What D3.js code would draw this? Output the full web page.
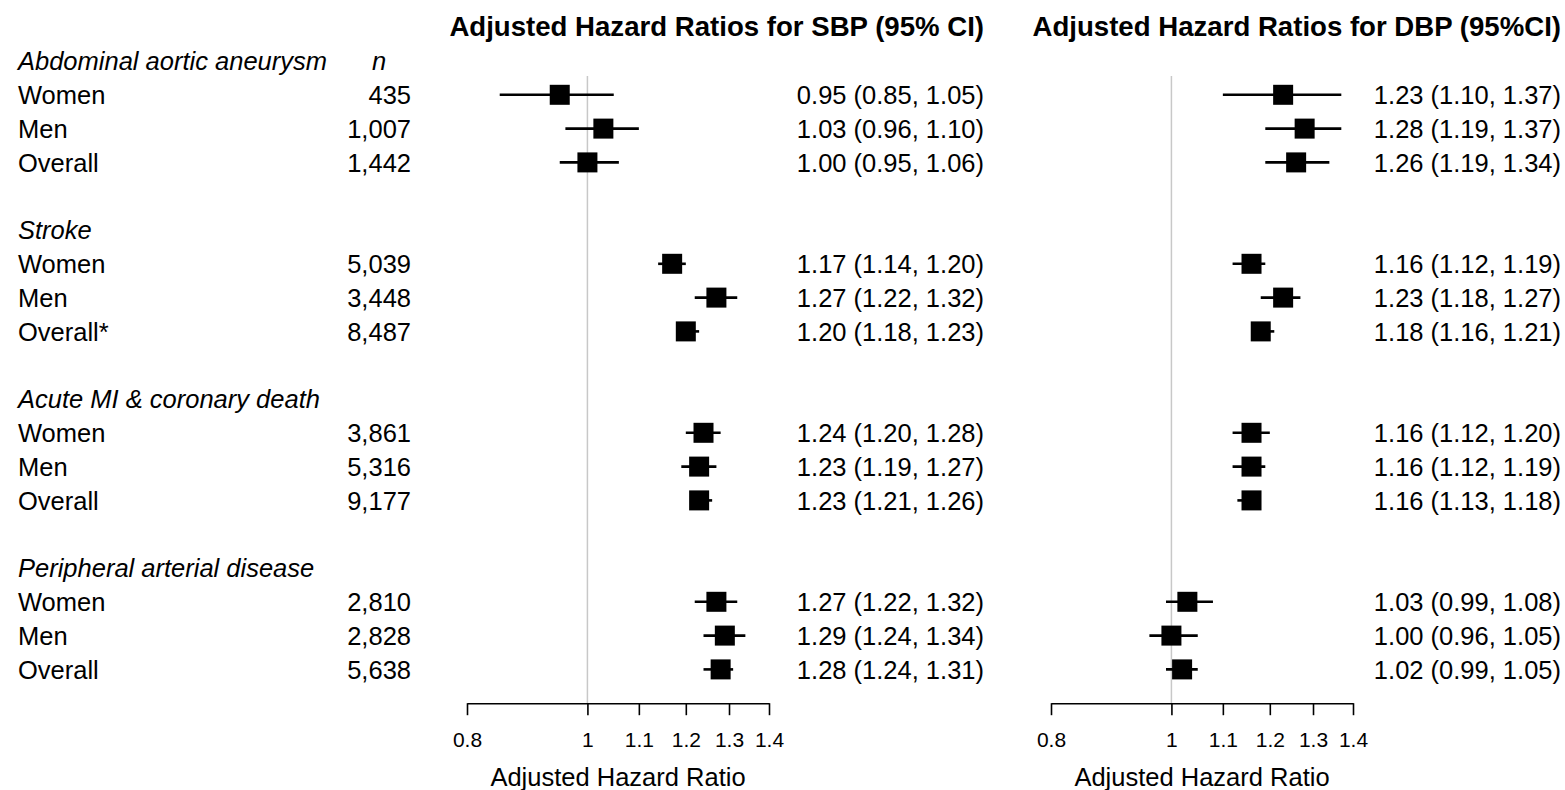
<!DOCTYPE html>
<html>
<head>
<meta charset="utf-8">
<script src="https://cdn.jsdelivr.net/npm/d3@7"></script>
<style>
  html, body { margin: 0; padding: 0; background: #fff; }
  svg { display: block; }
  text { font-family: "Liberation Sans", Arial, sans-serif; fill: #000; }
</style>
</head>
<body>
<svg id="chart" width="1565" height="790"></svg>
<script>
// Outcome groups and subgroup rows
const groups = ["Abdominal aortic aneurysm", "Stroke", "Acute MI & coronary death", "Peripheral arterial disease"];
const subgroups = [
  ["Women", "Men", "Overall"],
  ["Women", "Men", "Overall*"],
  ["Women", "Men", "Overall"],
  ["Women", "Men", "Overall"]
];
const nCases = [
  ["435", "1,007", "1,442"],
  ["5,039", "3,448", "8,487"],
  ["3,861", "5,316", "9,177"],
  ["2,810", "2,828", "5,638"]
];

// Systolic BP: hazard ratio, lower and upper 95% CI
const sbpHR    = [[0.95, 1.03, 1.00], [1.17, 1.27, 1.20], [1.24, 1.23, 1.23], [1.27, 1.29, 1.28]];
const sbpLower = [[0.85, 0.96, 0.95], [1.14, 1.22, 1.18], [1.20, 1.19, 1.21], [1.22, 1.24, 1.24]];
const sbpUpper = [[1.05, 1.10, 1.06], [1.20, 1.32, 1.23], [1.28, 1.27, 1.26], [1.32, 1.34, 1.31]];

// Diastolic BP: hazard ratio, lower and upper 95% CI
const dbpHR    = [[1.23, 1.28, 1.26], [1.16, 1.23, 1.18], [1.16, 1.16, 1.16], [1.03, 1.00, 1.02]];
const dbpLower = [[1.10, 1.19, 1.19], [1.12, 1.18, 1.16], [1.12, 1.12, 1.13], [0.99, 0.96, 0.99]];
const dbpUpper = [[1.37, 1.37, 1.34], [1.19, 1.27, 1.21], [1.20, 1.19, 1.18], [1.08, 1.05, 1.05]];

const tickValues = [0.8, 1, 1.1, 1.2, 1.3, 1.4];
const panelTitles = ["Adjusted Hazard Ratios for SBP (95% CI)", "Adjusted Hazard Ratios for DBP (95%CI)"];
const axisTitle = "Adjusted Hazard Ratio";

const svg = d3.select("#chart");
const fs = 25.5;

// Row layout: each group has a header line, three subgroup lines and a blank line
const rowY = d3.scaleLinear().domain([0, 15]).range([61, 568]);
const rows = [];
groups.forEach((g, gi) => {
  rows.push({ type: "header", label: g, idx: gi * 5, gi });
  subgroups[gi].forEach((s, si) => {
    rows.push({ type: "row", label: s, idx: gi * 5 + 1 + si, gi, si });
  });
});

// Left label column
const left = svg.append("g");
left.selectAll("text.lab").data(rows).join("text")
  .attr("class", "lab")
  .attr("x", 18)
  .attr("y", d => rowY(d.idx))
  .attr("dy", "0.36em")
  .style("font-size", fs + "px")
  .style("font-style", d => d.type === "header" ? "italic" : "normal")
  .text(d => d.label);

left.append("text")
  .attr("x", 379).attr("y", rowY(0)).attr("dy", "0.36em")
  .attr("text-anchor", "middle")
  .style("font-size", fs + "px").style("font-style", "italic")
  .text("n");

left.selectAll("text.n").data(rows.filter(d => d.type === "row")).join("text")
  .attr("class", "n")
  .attr("x", 411)
  .attr("y", d => rowY(d.idx))
  .attr("dy", "0.36em")
  .attr("text-anchor", "end")
  .style("font-size", fs + "px")
  .text(d => nCases[d.gi][d.si]);

const fmt = d3.format(".2f");

function panel(range, hr, lo, hi, textX, title) {
  const x = d3.scaleLog().domain([0.8, 1.4]).range(range);
  const g = svg.append("g");
  const axisY = rowY(19);

  g.append("text")
    .attr("x", textX).attr("y", 26).attr("dy", "0.36em")
    .attr("text-anchor", "end")
    .style("font-size", "27.6px").style("font-weight", "bold")
    .text(title);

  // reference line at HR = 1
  g.append("line")
    .attr("x1", x(1)).attr("x2", x(1))
    .attr("y1", 76).attr("y2", axisY)
    .attr("stroke", "#c8c8c8").attr("stroke-width", 1.5);

  const data = rows.filter(d => d.type === "row").map(d => ({
    idx: d.idx, hr: hr[d.gi][d.si], lo: lo[d.gi][d.si], hi: hi[d.gi][d.si]
  }));

  g.selectAll("line.ci").data(data).join("line")
    .attr("class", "ci")
    .attr("x1", d => x(d.lo)).attr("x2", d => x(d.hi))
    .attr("y1", d => rowY(d.idx)).attr("y2", d => rowY(d.idx))
    .attr("stroke", "#000").attr("stroke-width", 2.6);

  const bs = 20;
  g.selectAll("rect.pt").data(data).join("rect")
    .attr("class", "pt")
    .attr("x", d => x(d.hr) - bs / 2)
    .attr("y", d => rowY(d.idx) - bs / 2)
    .attr("width", bs).attr("height", bs)
    .attr("fill", "#000");

  g.selectAll("text.val").data(data).join("text")
    .attr("class", "val")
    .attr("x", textX)
    .attr("y", d => rowY(d.idx))
    .attr("dy", "0.36em")
    .attr("text-anchor", "end")
    .style("font-size", fs + "px")
    .text(d => `${fmt(d.hr)} (${fmt(d.lo)}, ${fmt(d.hi)})`);

  const axis = d3.axisBottom(x)
    .tickValues(tickValues)
    .tickFormat(d => String(d))
    .tickSizeInner(12).tickSizeOuter(0).tickPadding(17);
  const ag = g.append("g").attr("transform", `translate(0,${axisY})`).call(axis);
  ag.attr("font-size", null).attr("font-family", null);
  ag.select(".domain").attr("stroke", "#000").attr("stroke-width", 1.6);
  ag.selectAll(".tick line").attr("stroke", "#000").attr("stroke-width", 1.6);
  ag.selectAll(".tick text")
    .style("font-family", '"Liberation Sans", Arial, sans-serif')
    .style("font-size", "21px").attr("fill", "#000");

  g.append("text")
    .attr("x", (range[0] + range[1]) / 2).attr("y", 777).attr("dy", "0.36em")
    .attr("text-anchor", "middle")
    .style("font-size", fs + "px")
    .text(axisTitle);
}

panel([467, 769], sbpHR, sbpLower, sbpUpper, 984, panelTitles[0]);
panel([1051, 1353], dbpHR, dbpLower, dbpUpper, 1561, panelTitles[1]);
</script>
</body>
</html>
